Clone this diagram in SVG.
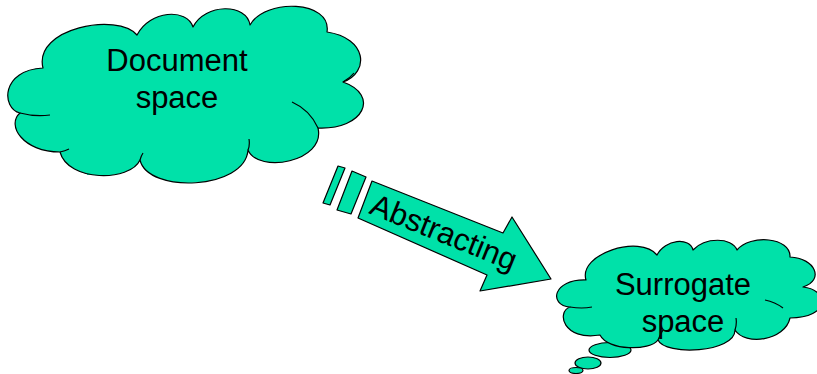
<svg xmlns="http://www.w3.org/2000/svg" width="817" height="374" viewBox="0 0 817 374">
<style>
.fill{fill:#00E1A9;stroke:#000;stroke-width:1.2;stroke-linejoin:round}
.crease{fill:none;stroke:#000;stroke-width:1.2}
.lbl{font-family:"Liberation Sans",Arial,sans-serif;font-size:31px;fill:#000}
</style>
<rect width="817" height="374" fill="#fff"/>
<g id="document-space">
<polygon points="87,166 101,166 101,175 87,175" fill="#00E1A9"/>
<path class="fill" d="M43,68 C33,28 118,12 137,35 C150,10 187,8 193,27 C205,3 247,3 250,25 C265,-2 332,0 327,32 C367,38 370,72 343,82 C380,95 364,130 318,128 C326,162 258,174 248,150 C245,190 148,194 140,160 C130,182 68,182 60,152 C23,152 6,125 20,113 C1,108 1,70 43,68 Z"/>
<path class="crease" d="M20,113 Q35,117 50,115 M60,152 Q65,151 69,149 M318,128 Q310,110 292,102 M343,82 Q350,78 354,73 M140,160 Q141,156 143,153 M248,150 Q250,145 249,139"/>
<text class="lbl" x="177" y="71" text-anchor="middle">Document</text>
<text class="lbl" x="177" y="108" text-anchor="middle">space</text>
</g>
<g id="surrogate-space">
<ellipse class="fill" cx="576" cy="370.5" rx="7" ry="3"/>
<ellipse class="fill" cx="588" cy="363" rx="13" ry="6"/>
<ellipse class="fill" cx="610" cy="350" rx="21" ry="7.5"/>
<path class="fill" d="M586,280 C578,254 640,234 657,255 C665,239 690,237 693,250 C705,237 732,237 737,250 C750,234 791,237 790,257 C815,258 825,280 803,287 C830,290 830,318 790,318 C785,341 745,346 735,330 C735,353 665,356 658,340 C650,351 608,351 600,335 C563,341 556,312 570,307 C548,305 553,279 586,280 Z"/>
<path class="crease" d="M570,307 Q582,309 592,307 M783,308 Q775,302 765,300 M658,340 Q660,335 663,330 M735,330 Q737,324 736,318"/>
<text class="lbl" x="683" y="295" text-anchor="middle">Surrogate</text>
<text class="lbl" x="683" y="332" text-anchor="middle">space</text>
</g>
<g id="connectors">
<g id="abstracting-arrow">
<polygon class="fill" points="338,166 345,168 330,205 323,203"/>
<polygon class="fill" points="352,171 366,177 351,214 337,210"/>
<polygon class="fill" points="372,181 503,233 512,217 551,279 480,291 487,275 358,218"/>
<text class="lbl" x="368" y="213" transform="rotate(22 368 213)">Abstracting</text>
</g>
</g>
</svg>
